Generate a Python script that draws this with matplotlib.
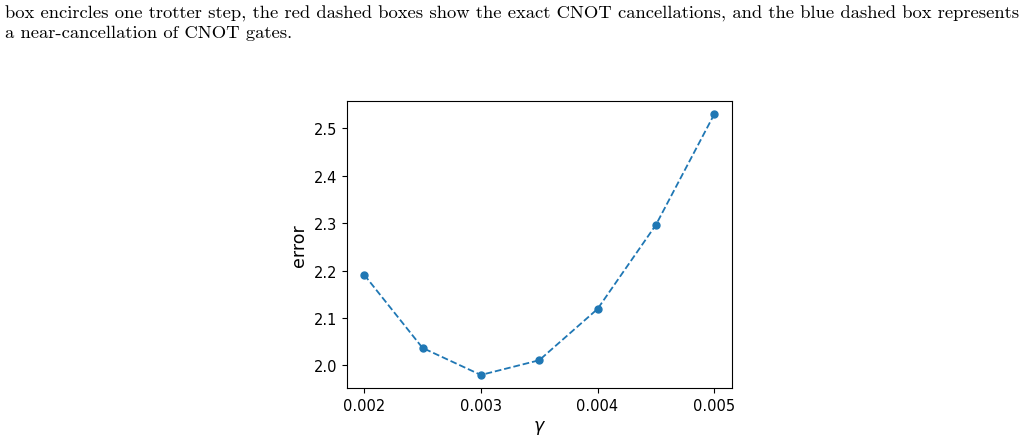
import matplotlib
matplotlib.use('Agg')
from matplotlib import pyplot as plt

gamma = [0.002, 0.0025, 0.003, 0.0035, 0.004, 0.0045, 0.005]
error = [2.191, 2.037, 1.980, 2.011, 2.119, 2.296, 2.529]
xticks = [0.002, 0.003, 0.004, 0.005]
yticks = [2.0, 2.1, 2.2, 2.3, 2.4, 2.5]

caption = [
    'box encircles one trotter step, the red dashed boxes show the exact CNOT cancellations, and the blue dashed box represents',
    'a near-cancellation of CNOT gates.',
]

fig = plt.figure(figsize=(10.28, 4.39), dpi=100)

# caption text from the paper page
for i, line in enumerate(caption):
    fig.text(5 / 1028, 1 - (14 + 19 * i) / 439, line, family='cmr10',
             fontsize=13.4, va='center', ha='left')

ax = fig.add_axes([346.7 / 1028, 1 - 389 / 439, 385 / 1028, 286.7 / 439])
ax.plot(gamma, error, '--o', color='#1f77b4', markersize=5, linewidth=1.3)
ax.set_xticks(xticks)
ax.set_yticks(yticks)
ax.tick_params(labelsize=10.5)
ax.set_xlabel(r'$\gamma$', fontsize=12.5)
ax.set_ylabel('error', fontsize=12.5)

fig.savefig('out.png', dpi=100)
